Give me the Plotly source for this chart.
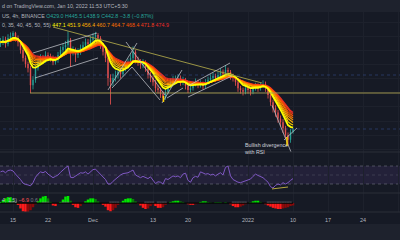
import plotly.graph_objects as go
import pandas as pd

# ---------------- data (12h bars) ----------------
bar_start = "2021-11-12 12:00"
closes = [587,591,584,594,597,602,594,587,574,561,
          551,544,516,525,544,554,561,558,566,563,
          561,554,558,566,574,579,582,591,571,574,
          566,571,577,582,587,584,591,596,599,594,
          582,571,561,528,521,528,533,538,534,544,
          548,554,561,571,558,554,549,553,544,533,
          528,521,511,508,501,495,505,515,521,525,
          526,528,521,525,515,508,511,518,521,516,
          518,515,521,525,528,531,528,533,538,534,
          541,538,531,528,521,511,508,505,511,508,
          505,511,515,511,516,518,511,500,488,478,
          471,461,455,445,434,426,439,442.8]
highs = [594,597,596,600,603,605,604,598,590,578,
         565,555,548,531,548,560,567,566,572,570,
         568,565,563,571,580,585,589,605,594,580,
         578,577,583,588,593,592,597,602,604,602,
         597,586,575,565,534,535,540,545,543,550,
         555,560,567,580,574,563,559,559,557,548,
         538,532,525,516,512,506,510,520,527,531,
         532,534,532,530,528,518,516,523,527,525,
         524,522,526,530,534,537,535,539,544,542,
         549,545,541,535,531,524,515,512,516,515,
         512,516,520,519,521,524,522,514,503,492,
         483,475,466,460,449,438,444,445.5]
lows = [579,582,578,580,589,592,588,580,568,555,
        545,537,503,509,520,540,549,552,553,557,
        555,549,550,553,561,569,574,578,546,565,
        554,561,566,572,577,578,580,586,590,587,
        576,565,554,515,484,514,522,527,527,530,
        539,543,549,556,552,548,543,544,538,527,
        521,515,505,502,495,490,492,501,511,516,
        519,521,515,516,509,503,504,507,514,511,
        512,509,511,517,521,524,522,524,529,528,
        530,532,525,522,515,505,502,499,501,502,
        499,501,507,505,507,512,505,494,482,471,
        464,454,448,437,427,417,421,436]
first_open = 584
rsi = [57,59,55,60,61,59,52,47,40,32,
       29,28,26,33,45,52,57,55,58,52,
       48,44,47,50,56,62,66,70,45,44,
       48,53,55,54,57,52,58,62,63,57,
       50,46,40,30,30,36,41,45,50,53,
       54,55,58,61,50,47,44,47,45,42,
       46,38,31,35,34,30,42,40,45,48,
       46,48,44,52,54,38,34,44,47,45,
       57,54,52,53,50,52,48,52,55,50,
       67,70,48,40,36,34,33,35,38,39,
       41,47,52,49,47,44,39,34,24,21,
       27,30,28,33,30,33,38,42]
momentum = [2,5,8,10,10,7,2,-3,-9,-14,
            -16,-15,-12,-7,-2,3,8,11,12,8,
            2,-4,-5,-1,2,6,11,12,4,-3,
            -7,-8,-5,-1,3,6,8,8,7,3,
            0,-3,-6,-12,-14,-12,-8,-3,1,4,
            7,8,8,7,3,-1,-4,-8,-10,-9,
            -5,-2,-5,-8,-8,-7,-3,0,2,3,
            4,4,3,2,0,-2,-3,-3,-2,-1,
            2,3,3,2,1,0,1,1,1,0,
            1,0,-2,-5,-7,-7,-6,-4,-2,0,
            1,3,4,4,2,0,-2,-4,-6,-8,
            -9,-10,-10,-9,-8,-7,-5,-4]
squeeze_idx = [4,5,6,17,18,19,25,26,27,44,45,46,47,58,59,60,61,63,64,65,66,
               93,94,95,96,97,98,107,108,109,110,111,112,113,114,115,116]

ema_periods = [20, 25, 30, 35, 40, 45, 50, 55]
ema_legend = ["447.1", "451.9", "456.4", "460.7", "464.7", "468.4", "471.8", "474.9"]
ribbon_colors = ["#ffff00", "#ffd400", "#ffae00", "#ff9000", "#ff7200", "#ff5600", "#f83c1c", "#f02a2a"]

tick_dates = ["2021-11-15", "2021-11-22", "2021-12-01", "2021-12-13", "2021-12-20",
              "2022-01-01", "2022-01-10", "2022-01-17", "2022-01-24", "2022-01-31"]
tick_labels = ["15", "22", "Dec", "13", "20", "2022", "10", "17", "24", "31"]

# drawings: (start date, start price, end date, end price)
grey_lines = [
    ("2021-11-19 00:00", 569.1, "2021-12-01 19:12", 602.1),
    ("2021-11-19 09:36", 527.9, "2021-12-02 00:00", 560.9),
    ("2021-12-04 00:00", 508.1, "2021-12-09 19:12", 585.6),
    ("2021-12-07 14:24", 587.3, "2021-12-15 09:36", 499.8),
    ("2021-12-04 19:12", 511.3, "2021-12-08 19:12", 546.0),
    ("2021-12-08 19:12", 546.0, "2021-12-14 09:36", 491.6),
    ("2021-12-14 19:12", 486.6, "2021-12-18 19:12", 541.0),
    ("2021-12-15 19:12", 494.8, "2021-12-19 00:00", 511.3),
    ("2021-12-20 00:00", 514.7, "2021-12-28 09:36", 552.6),
    ("2021-12-20 00:00", 496.5, "2021-12-28 19:12", 531.2),
    ("2022-01-05 19:12", 482.9, "2022-01-09 14:24", 405.8),
    ("2022-01-08 04:48", 425.6, "2022-01-10 19:12", 445.4),
]
olive_trend = [("2021-11-23 00:00", 612.0, "2022-01-03 19:12", 519.6)]
support_level = 503.1
support_start = "2021-11-18 09:36"
blue_levels = [532.8, 443.7]
yellow_marks = [("2021-12-15 02:24", 498.2, "2021-12-15 02:24", 488.3),
                ("2022-01-08 19:12", 430.5, "2022-01-08 19:12", 415.7)]
rsi_div = [("2022-01-05 19:12", 19.0, "2022-01-09 00:00", 23.3)]

header1 = "d on TradingView.com, Jan 10, 2022 11:53 UTC+5:30"
header2_a = "US, 4h, BINANCE "
header2_b = "O429.0 H445.5 L438.9 C442.8 \u22123.8 (\u22120.87%)"
header3_a = "0, 35, 40, 45, 50, 55) "
hist_legend = ["4, 1.5)", "\u22126.9", "0.6"]
note_text = "Bullish divergence<br>with RSI"

# ---------------- derived ----------------
dates = pd.date_range(bar_start, periods=len(closes), freq="12h")
opens = [first_open] + closes[:-1]
cl = pd.Series(closes)
emas = [cl.ewm(span=p / 3.0, adjust=False).mean() for p in ema_periods]

W, H = 400, 240
PX_MS = 86400000 / 5.0  # ms per pixel (5 px per day)
def px(x): return x / W
def py(y): return 1 - y / H

UP, DN = "#26a69a", "#ef5350"
BG = "#161a25"
fig = go.Figure()

# candle wicks
for col, cond in ((UP, True), (DN, False)):
    xs, ys = [], []
    for d, o, h, l, c in zip(dates, opens, highs, lows, closes):
        if (c >= o) == cond:
            xs += [d, d, None]; ys += [l, h, None]
    fig.add_trace(go.Scatter(x=xs, y=ys, mode="lines", line=dict(color=col, width=1),
                             yaxis="y", hoverinfo="skip", opacity=0.8))
# candle bodies
body_base = [min(o, c) for o, c in zip(opens, closes)]
body_h = [max(abs(c - o), 0.8) for o, c in zip(opens, closes)]
body_col = [UP if c >= o else DN for o, c in zip(opens, closes)]
fig.add_trace(go.Bar(x=dates, y=body_h, base=body_base, width=1.5 * PX_MS,
                     marker=dict(color=body_col, line=dict(width=0)), yaxis="y", opacity=0.8))

# EMA ribbon (slowest first so yellow is on top)
for e, col in list(zip(emas, ribbon_colors))[::-1]:
    wdt = 1.8 if col == ribbon_colors[0] else 1.1
    fig.add_trace(go.Scatter(x=dates, y=e, mode="lines", line=dict(color=col, width=wdt),
                             yaxis="y", hoverinfo="skip"))

# drawings
def seg_trace(segs, color, width, yaxis="y", dash=None, opacity=1.0):
    xs, ys = [], []
    for a, b, c, d in segs:
        xs += [pd.Timestamp(a), pd.Timestamp(c), None]; ys += [b, d, None]
    fig.add_trace(go.Scatter(x=xs, y=ys, mode="lines", yaxis=yaxis, hoverinfo="skip",
                             line=dict(color=color, width=width, dash=dash), opacity=opacity))

seg_trace([(support_start, support_level, "2022-02-05", support_level)], "rgba(170,160,80,0.45)", 2)
seg_trace([("2021-11-01", v, "2022-02-05", v) for v in blue_levels], "rgba(60,90,170,0.45)", 1, dash="dot")
seg_trace(olive_trend, "#9a9444", 1)
seg_trace(grey_lines, "#c4c6cc", 1, opacity=0.75)
seg_trace(yellow_marks, "#ffd600", 1.5)

# RSI
fig.add_trace(go.Scatter(x=dates, y=rsi, mode="lines", line=dict(color="#7e57c2", width=1),
                         yaxis="y2", hoverinfo="skip"))
seg_trace(rsi_div, "#b5a642", 1, yaxis="y2")

# momentum histogram
mcol = []
for i, v in enumerate(momentum):
    prev = momentum[i - 1] if i else 0
    if v >= 0:
        mcol.append("#00e600" if v >= prev else "#0b7d0b")
    else:
        mcol.append("#ff1a1a" if v <= prev else "#8b0a0a")
fig.add_trace(go.Bar(x=dates, y=momentum, width=12 * 3600 * 1000, yaxis="y3",
                     marker=dict(color=mcol, line=dict(width=0))))
fig.add_trace(go.Bar(x=[dates[i] for i in squeeze_idx], y=[2.0] * len(squeeze_idx),
                     base=[0.3] * len(squeeze_idx), width=12 * 3600 * 1000, yaxis="y3",
                     marker=dict(color="#868993", line=dict(width=0)), opacity=0.8))
fig.add_trace(go.Scatter(x=[dates[0], dates[-1]], y=[0, 0], mode="lines", yaxis="y3",
                         line=dict(color="#050505", width=1.2), hoverinfo="skip"))

# ---------------- layout ----------------
x0 = pd.Timestamp("2021-11-15") - pd.Timedelta(days=13 / 5)
x1 = x0 + pd.Timedelta(days=W / 5)
dom_price = [py(152), py(12)]
dom_rsi = [py(193), py(152)]
dom_mom = [py(212), py(193)]
GRID = "#1d212c"
FONT = "Liberation Sans"

fig.update_layout(
    width=W, height=H, margin=dict(l=0, r=0, t=0, b=0),
    paper_bgcolor=BG, plot_bgcolor=BG, showlegend=False, barmode="overlay",
    xaxis=dict(type="date", range=[x0, x1], anchor="y3", tickvals=tick_dates, ticktext=tick_labels,
               showgrid=True, gridcolor=GRID, gridwidth=1, zeroline=False, showline=False,
               ticks="", tickfont=dict(family=FONT, size=5.5, color="#b2b5be"),
               ticklabelstandoff=3, fixedrange=True),
    yaxis=dict(domain=dom_price, range=[405.75, 636.75], showticklabels=False, zeroline=False,
               showgrid=True, gridcolor=GRID, tick0=620, dtick=23.3, fixedrange=True),
    yaxis2=dict(domain=dom_rsi, range=[10, 101.1], showticklabels=False, showgrid=False,
                zeroline=False, fixedrange=True),
    yaxis3=dict(domain=dom_mom, range=[-15, 17], showticklabels=False, showgrid=False,
                zeroline=False, fixedrange=True),
)

shapes = [
    dict(type="rect", xref="paper", yref="paper", x0=0, x1=1, y0=py(12), y1=1,
         fillcolor="#1e222d", line=dict(width=0), layer="below"),
    dict(type="rect", xref="paper", yref="paper", x0=0, x1=1, y0=0, y1=py(224),
         fillcolor="#1e222d", line=dict(width=0), layer="below"),
    dict(type="rect", xref="paper", yref="y2", x0=0, x1=1, y0=30, y1=70,
         fillcolor="rgba(126,87,194,0.13)", line=dict(width=0), layer="below"),
]
for lv in (70, 50, 30):
    shapes.append(dict(type="line", xref="paper", yref="y2", x0=0, x1=1, y0=lv, y1=lv,
                       line=dict(color="rgba(120,123,134,0.55)" if lv != 50 else "rgba(120,123,134,0.3)",
                                 width=1, dash="dot"), layer="below"))
for yy in (152, 193, 212):
    shapes.append(dict(type="line", xref="paper", yref="paper", x0=0, x1=1, y0=py(yy), y1=py(yy),
                       line=dict(color="#2a2e39", width=1)))
fig.update_layout(shapes=shapes)

def span(t, c):
    return '<span style="color:%s">%s</span>' % (c, t)

line3 = span(header3_a, "#b2b5be") + " ".join(span(v, c) for v, c in zip(ema_legend, ribbon_colors))
anns = [
    dict(text=span(header1, "#b2b5be"), x=px(0), y=py(6)),
    dict(text=span(header2_a, "#b2b5be") + span(header2_b, "#26a69a"), x=px(0), y=py(16)),
    dict(text=line3, x=px(0), y=py(25)),
    dict(text=span(hist_legend[0], "#b2b5be") + " " + span(hist_legend[1], "#ff5252") + " " +
         span(hist_legend[2], "#787b86"), x=px(0), y=py(200)),
]
for a in anns:
    a.update(xref="paper", yref="paper", xanchor="left", yanchor="middle", showarrow=False,
             font=dict(family=FONT, size=5.3, color="#b2b5be"))
anns.append(dict(text=note_text, xref="paper", yref="paper", x=px(243), y=py(140), xanchor="left",
                 yanchor="top", showarrow=False, align="left",
                 font=dict(family=FONT, size=5.3, color="#d1d4dc")))
fig.update_layout(annotations=anns)

fig.write_html("out.html", config={"displayModeBar": False, "staticPlot": True})
